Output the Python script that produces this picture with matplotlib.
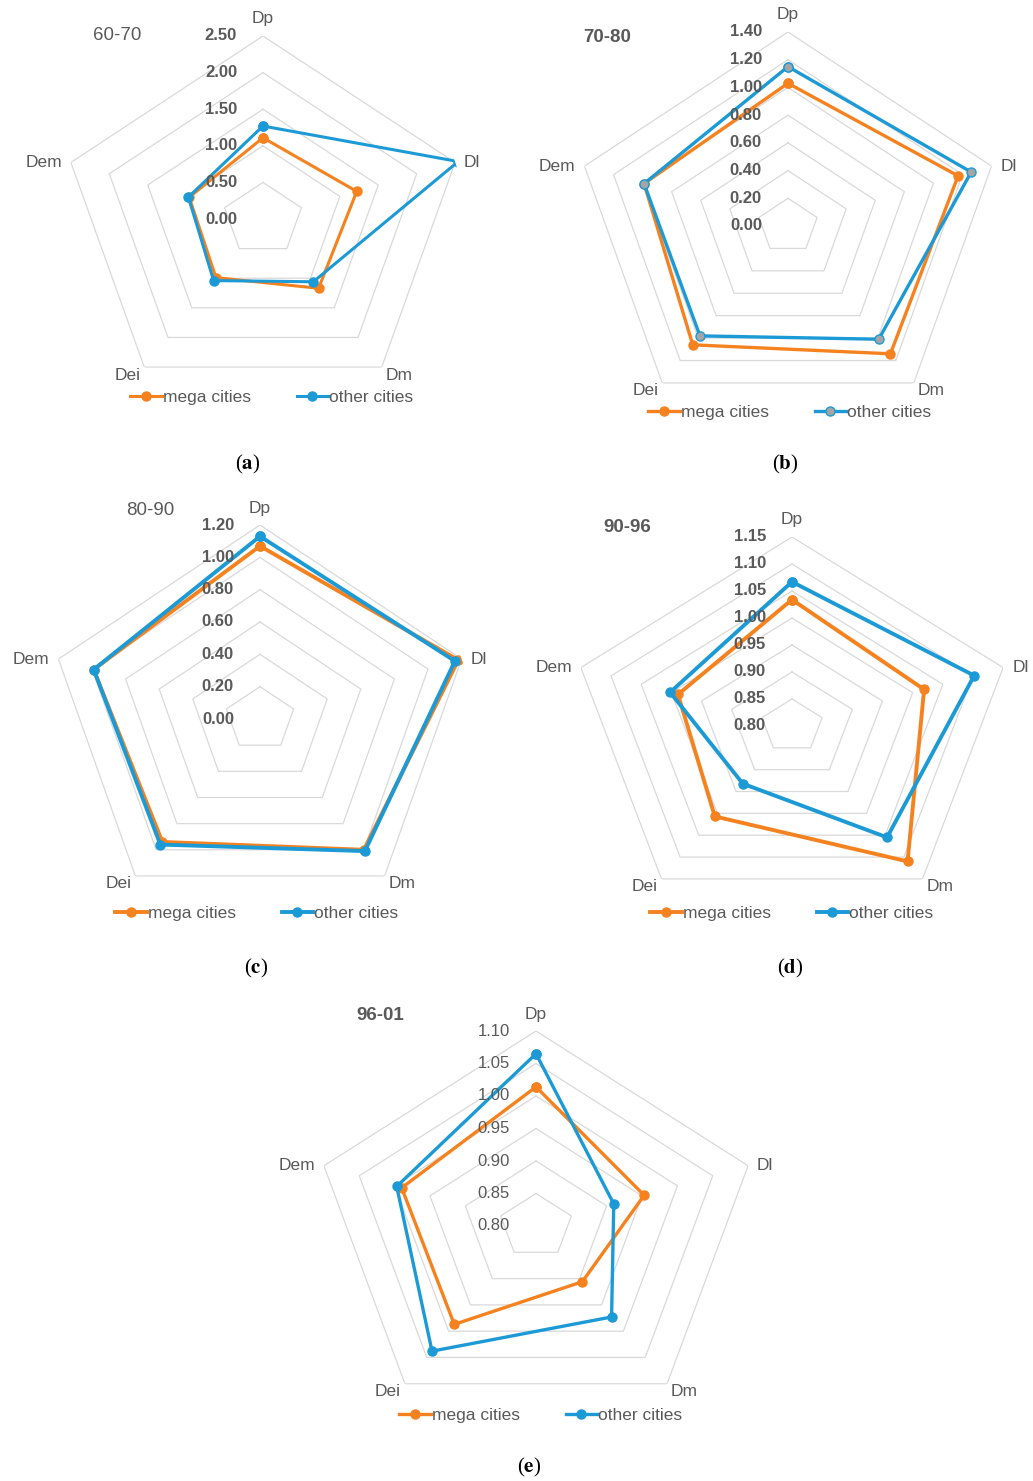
import numpy as np
import matplotlib
matplotlib.use('Agg')
import matplotlib.pyplot as plt
from matplotlib.transforms import offset_copy

plt.rcParams['font.family'] = 'Liberation Sans'
plt.rcParams['mathtext.fontset'] = 'stix'

categories = ['Dp', 'Dl', 'Dm', 'Dei', 'Dem']
series_names = ['mega cities', 'other cities']

mega_a = [1.11, 1.22, 1.17, 0.99, 0.96]
other_a = [1.27, 2.54, 1.06, 1.04, 0.97]
ticks_a = [0.00, 0.50, 1.00, 1.50, 2.00, 2.50]

mega_b = [1.03, 1.17, 1.14, 1.06, 0.99]
other_b = [1.15, 1.26, 1.01, 0.98, 0.99]
ticks_b = [0.00, 0.20, 0.40, 0.60, 0.80, 1.00, 1.20, 1.40]

mega_c = [1.07, 1.18, 1.00, 0.94, 0.99]
other_c = [1.13, 1.16, 1.01, 0.96, 0.99]
ticks_c = [0.00, 0.20, 0.40, 0.60, 0.80, 1.00, 1.20]

mega_d = [1.034, 1.019, 1.110, 1.007, 0.989]
other_d = [1.067, 1.102, 1.055, 0.932, 1.002]
ticks_d = [0.80, 0.85, 0.90, 0.95, 1.00, 1.05, 1.10, 1.15]

mega_e = [1.014, 0.953, 0.906, 0.987, 0.990]
other_e = [1.065, 0.910, 0.973, 1.038, 0.997]
ticks_e = [0.80, 0.85, 0.90, 0.95, 1.00, 1.05, 1.10]

titles = ['60-70', '70-80', '80-90', '90-96', '96-01']
letters = ['a', 'b', 'c', 'd', 'e']

orange = '#F5821F'
blue = '#1C9AD6'
grid_c = '#D9D9D9'
text_c = '#595959'

W, H = 1033, 1481
fig = plt.figure(figsize=(W / 100, H / 100), dpi=100)

# panel geometry in pixels: centre, radii, title, legend and caption spots
panels = [
    dict(mega=mega_a, other=other_a, ticks=ticks_a, c=(263, 219), r=(202, 183),
         lw=2.2, tw='bold', ttw='normal', title=(117, 35), leg=(272, 397),
         cap=(248, 464)),
    dict(mega=mega_b, other=other_b, ticks=ticks_b, c=(788, 226), r=(214, 194),
         lw=2.4, tw='bold', ttw='bold', title=(607, 38), leg=(790, 412),
         cap=(785, 464)),
    dict(mega=mega_c, other=other_c, ticks=ticks_c, c=(260, 719), r=(212, 194),
         lw=2.8, tw='bold', ttw='normal', title=(150, 511), leg=(257, 913),
         cap=(256, 968)),
    dict(mega=mega_d, other=other_d, ticks=ticks_d, c=(792, 726), r=(222, 189),
         lw=2.8, tw='bold', ttw='bold', title=(627, 528), leg=(792, 913),
         cap=(790, 968)),
    dict(mega=mega_e, other=other_e, ticks=ticks_e, c=(536, 1226), r=(223, 195),
         lw=2.4, tw='normal', ttw='bold', title=(380, 1016), leg=(541, 1415),
         cap=(529, 1467)),
]

angles = np.arange(len(categories)) * 2 * np.pi / len(categories)
closed = np.append(angles, angles[0])

label_offsets = [(0, 17, 'center'), (9, 0, 'left'), (4, -8, 'left'),
                 (-4, -8, 'right'), (-9, 0, 'right')]

for i, p in enumerate(panels):
    cx, cy = p['c']
    rx, ry = p['r']
    ax = fig.add_axes([(cx - rx) / W, 1 - (cy + ry) / H, 2 * rx / W, 2 * ry / H],
                      projection='polar')
    ax.set_aspect('auto')
    ax.set_theta_offset(np.pi / 2)
    ax.set_theta_direction(-1)
    ticks = p['ticks']
    ax.set_ylim(ticks[0], ticks[-1])
    ax.grid(False)
    ax.set_xticks([])
    ax.set_yticks([])
    ax.spines['polar'].set_visible(False)
    ax.patch.set_alpha(0)

    for t in ticks[1:]:
        ax.plot(closed, [t] * len(closed), color=grid_c, lw=0.9, zorder=1)

    tick_tr = offset_copy(ax.transData, fig=fig, x=-26, y=0, units='dots')
    for t in ticks:
        ax.text(0, t, f'{t:.2f}', transform=tick_tr, ha='right', va='center',
                fontsize=12, color=text_c, fontweight=p['tw'], zorder=5)

    for k, name in enumerate(categories):
        dx, dy, ha = label_offsets[k]
        tr = offset_copy(ax.transData, fig=fig, x=dx, y=dy, units='dots')
        ax.text(angles[k], ticks[-1], name, transform=tr, ha=ha, va='center',
                fontsize=12.5, color=text_c)

    for vals, col, name in [(p['mega'], orange, series_names[0]),
                            (p['other'], blue, series_names[1])]:
        v = np.append(vals, vals[0])
        mfc = col
        if i == 1 and col == blue:
            mfc = '#A5A5A5'
        ax.plot(closed, v, color=col, lw=p['lw'], marker='o', markersize=6.5,
                markerfacecolor=mfc, markeredgecolor=col, label=name, zorder=3)

    handles, labels = ax.get_legend_handles_labels()
    lx, ly = p['leg']
    fig.legend(handles, labels, loc='center', bbox_to_anchor=(lx / W, 1 - ly / H),
               ncol=2, frameon=False, fontsize=12.5, labelcolor=text_c,
               handlelength=1.8, handletextpad=0.1, columnspacing=2.6)

    tx, ty = p['title']
    fig.text(tx / W, 1 - ty / H, titles[i], ha='center', va='center',
             fontsize=13.5, color=text_c, fontweight=p['ttw'])

    capx, capy = p['cap']
    fig.text(capx / W, 1 - capy / H, '(' + r'$\mathbf{' + letters[i] + '}$' + ')',
             ha='center', va='center', fontsize=15, family='Liberation Serif')

fig.savefig('out.png', dpi=100, facecolor='white')
